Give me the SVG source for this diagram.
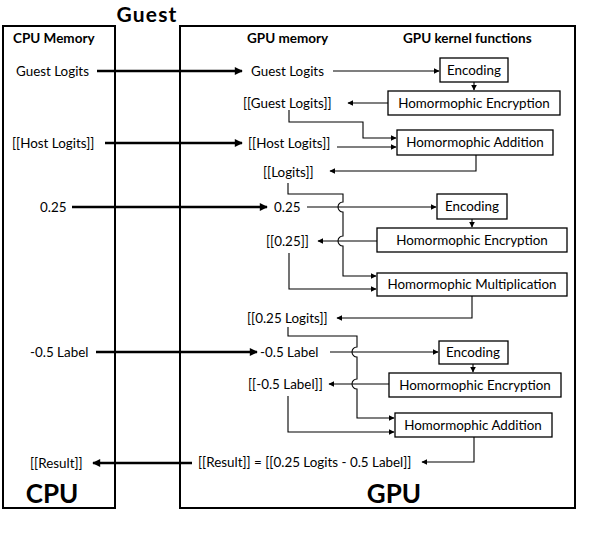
<svg xmlns="http://www.w3.org/2000/svg" width="596" height="544" viewBox="0 0 596 544">
<style>
text{font-family:Lato,"Liberation Sans",sans-serif;fill:#000}
.t{font-size:13.4px}
.h{font-size:13.5px;font-weight:bold}
.big{font-size:26px;font-weight:bold}
.box{fill:#fff;stroke:#000;stroke-width:1.3}
.frame{fill:none;stroke:#000;stroke-width:2}
.thin{fill:none;stroke:#000;stroke-width:1.1}
.thick{fill:none;stroke:#000;stroke-width:2.6}
</style>
<defs>
<marker id="a" viewBox="0 0 10 10" refX="9" refY="5" markerWidth="6" markerHeight="6" markerUnits="userSpaceOnUse" orient="auto"><path d="M0,0 L10,5 L0,10 z" fill="#000"/></marker>
<marker id="A" viewBox="0 0 10 10" refX="9" refY="5" markerWidth="9" markerHeight="8" markerUnits="userSpaceOnUse" orient="auto"><path d="M0,0 L10,5 L0,10 z" fill="#000"/></marker>
</defs>
<text x="147" y="22" text-anchor="middle" style="font-size:21px;font-weight:bold;letter-spacing:1.2px">Guest</text>
<g id="cpu">
<rect class="frame" x="3" y="26" width="112" height="482"/>
<text class="h" x="13" y="43">CPU Memory</text>
<text class="big" x="52" y="503" text-anchor="middle">CPU</text>
<text class="t" x="16" y="76">Guest Logits</text>
<text class="t" x="12" y="148">[[Host Logits]]</text>
<text class="t" x="40" y="212">0.25</text>
<text class="t" x="30" y="357">-0.5 Label</text>
<text class="t" x="30" y="468">[[Result]]</text>
</g>
<g id="gpu">
<rect class="frame" x="180" y="26" width="395" height="482"/>
<text class="h" x="247" y="43">GPU memory</text>
<text class="h" x="403" y="43">GPU kernel functions</text>
<text class="big" x="394" y="503" text-anchor="middle">GPU</text>
<text class="t" x="251" y="76">Guest Logits</text>
<text class="t" x="243" y="108">[[Guest Logits]]</text>
<text class="t" x="248" y="148">[[Host Logits]]</text>
<text class="t" x="263" y="177">[[Logits]]</text>
<text class="t" x="274" y="212">0.25</text>
<text class="t" x="266" y="246">[[0.25]]</text>
<text class="t" x="247" y="323">[[0.25 Logits]]</text>
<text class="t" x="260" y="357">-0.5 Label</text>
<text class="t" x="248" y="389">[[-0.5 Label]]</text>
<text class="t" x="198" y="467">[[Result]] = [[0.25 Logits - 0.5 Label]]</text>
</g>
<g id="enc1"><rect class="box" x="440" y="58" width="68" height="24"/><text class="t" x="474" y="75" text-anchor="middle">Encoding</text></g>
<g id="he1"><rect class="box" x="388" y="91" width="172" height="24"/><text class="t" x="474" y="108" text-anchor="middle">Homormophic Encryption</text></g>
<g id="add1"><rect class="box" x="397" y="130" width="156" height="25"/><text class="t" x="475" y="147" text-anchor="middle">Homormophic Addition</text></g>
<g id="enc2"><rect class="box" x="437" y="194" width="70" height="25"/><text class="t" x="472" y="211" text-anchor="middle">Encoding</text></g>
<g id="he2"><rect class="box" x="377" y="228" width="190" height="24"/><text class="t" x="472" y="245" text-anchor="middle">Homormophic Encryption</text></g>
<g id="mul"><rect class="box" x="377" y="273" width="190" height="23"/><text class="t" x="472" y="289" text-anchor="middle">Homormophic Multiplication</text></g>
<g id="enc3"><rect class="box" x="439" y="341" width="69" height="23"/><text class="t" x="473" y="357" text-anchor="middle">Encoding</text></g>
<g id="he3"><rect class="box" x="389" y="373" width="172" height="24"/><text class="t" x="475" y="390" text-anchor="middle">Homormophic Encryption</text></g>
<g id="add2"><rect class="box" x="395" y="413" width="157" height="24"/><text class="t" x="473" y="430" text-anchor="middle">Homormophic Addition</text></g>
<g id="connectors">
<path class="thick" d="M97,71 H242" marker-end="url(#A)"/>
<path class="thick" d="M105,143 H242" marker-end="url(#A)"/>
<path class="thick" d="M72,207 H267" marker-end="url(#A)"/>
<path class="thick" d="M96,352 H257" marker-end="url(#A)"/>
<path class="thick" d="M192,463 H93" marker-end="url(#A)"/>
<path class="thin" d="M333,71 H439" marker-end="url(#a)"/>
<path class="thin" d="M474,82 V90" marker-end="url(#a)"/>
<path class="thin" d="M388,103 H348" marker-end="url(#a)"/>
<path class="thin" d="M289,110 V122 H363 V138 H396" marker-end="url(#a)"/>
<path class="thin" d="M337,147 H396" marker-end="url(#a)"/>
<path class="thin" d="M476,155 V171 H330" marker-end="url(#a)"/>
<path class="thin" d="M307,207 H436" marker-end="url(#a)"/>
<path class="thin" d="M472,219 V227" marker-end="url(#a)"/>
<path class="thin" d="M377,241 H318" marker-end="url(#a)"/>
<path class="thin" d="M288,183 V194 H343 V202 A5,5 0 0 0 343,212 V236 A5,5 0 0 0 343,246 V276 H376" marker-end="url(#a)"/>
<path class="thin" d="M289,253 V289 H376" marker-end="url(#a)"/>
<path class="thin" d="M472,296 V318 H337" marker-end="url(#a)"/>
<path class="thin" d="M330,352 H438" marker-end="url(#a)"/>
<path class="thin" d="M473,364 V372" marker-end="url(#a)"/>
<path class="thin" d="M389,384 H329" marker-end="url(#a)"/>
<path class="thin" d="M288,327 V336 H357 V347 A5,5 0 0 0 357,357 V379 A5,5 0 0 0 357,389 V418 H394" marker-end="url(#a)"/>
<path class="thin" d="M288,396 V432 H394" marker-end="url(#a)"/>
<path class="thin" d="M474,437 V462 H422" marker-end="url(#a)"/>
</g>
</svg>
